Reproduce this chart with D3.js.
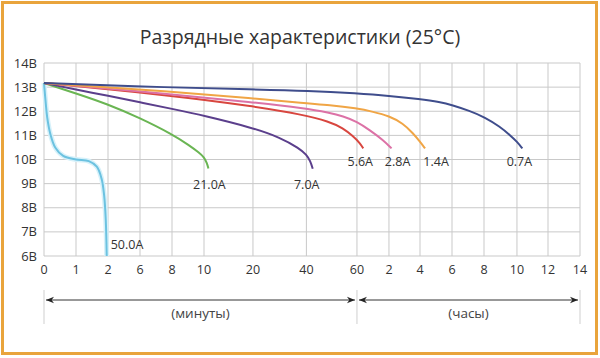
<!DOCTYPE html>
<html><head><meta charset="utf-8">
<script src="https://cdn.jsdelivr.net/npm/d3@7"></script>
<style>html,body{margin:0;padding:0;background:#fff;}svg{display:block;}</style>
</head><body>
<svg id="c" width="600" height="358"></svg>
<script>
// ---- data (x in minutes, y in volts) ----
const title = "Разрядные характеристики (25°C)";
const yTicks = [6,7,8,9,10,11,12,13,14];
const yTickLabels = ["6В","7В","8В","9В","10В","11В","12В","13В","14В"];
const xTickMinutes = [0,1,2,6,8,10,20,40,60,120,240,360,480,600,720,840];
const xTickLabels = ["0","1","2","6","8","10","20","40","60","2","4","6","8","10","12","14"];
const seriesNames = ["50.0A","21.0A","7.0A","5.6A","2.8A","1.4A","0.7A"];
const s50 = [[0,13.17],[0.05,12.4],[0.1,11.75],[0.2,11.05],[0.35,10.5],[0.6,10.15],[1.0,10.0],[1.4,9.93],[1.65,9.7],[1.8,9.2],[1.88,8.5],[1.93,7.5],[1.96,6.0]];
const s21 = [[0,13.17],[1,12.74],[2,12.29],[6,11.72],[8,11.05],[9.1,10.58],[9.7,10.28],[10,10.1],[10.6,9.86],[10.9,9.63]];
const s7  = [[0,13.17],[1,12.9],[2,12.64],[6,12.37],[8,12.1],[10,11.82],[20,11.31],[30,10.92],[37.4,10.46],[40,10.2],[41.6,9.93],[42.5,9.62]];
const s56 = [[0,13.17],[8,12.65],[20,12.21],[38.7,11.86],[49,11.57],[54.5,11.3],[58.5,10.96],[65.6,10.68],[71.8,10.46]];
const s28 = [[0,13.17],[8,12.71],[20,12.37],[39.5,12.12],[49,11.94],[54.5,11.8],[60,11.57],[84,11.22],[109,10.81],[130,10.46]];
const s14 = [[0,13.17],[8,12.81],[20,12.54],[39.5,12.33],[49,12.26],[60,12.12],[90,11.98],[121,11.8],[174,11.5],[213,11.09],[240,10.74],[259,10.46]];
const s07 = [[0,13.17],[8,12.98],[20,12.91],[41,12.85],[60,12.74],[120,12.64],[240,12.5],[315,12.38],[360,12.26],[425,12.02],[484,11.75],[538,11.36],[574,11.02],[600,10.74],[621,10.46]];
const seriesData = [s50,s21,s7,s56,s28,s14,s07];
const rangeNames = ["(минуты)","(часы)"];
const rangeBounds = [[0,60],[60,840]];

// ---- styles / layout ----
const colors = ["#6cc2e0","#6ab553","#5b3f8c","#d8463f","#dc72a6","#f0a545","#3f4d8c"];
const labelOffset = [[4,-12,"start"],[1,16,"middle"],[-6,16,"middle"],[-3,13,"middle"],[6,13,"middle"],[11,13,"middle"],[-3,13,"middle"]];
const L = 44, R = 580, T = 63, B = 256;
const units = [0,1,2,3,4,5,6.53,8.2,9.78,10.78,11.75,12.75,13.75,14.78,15.75,16.75];
const xRange = units.map(u => L + (R - L) * u / 16.75);

const svg = d3.select("#c");
const font = "'Open Sans', 'Noto Sans', sans-serif";

// frame
svg.append("rect").attr("x",2.5).attr("y",2.5).attr("width",594).attr("height",351)
  .attr("fill","#fff").attr("stroke","#e9a43c").attr("stroke-width",3);

const x = d3.scaleLinear().domain(xTickMinutes).range(xRange);
const y = d3.scaleLinear().domain([6,14]).range([B,T]);

// grid
const g = svg.append("g");
g.selectAll("line.v").data(xTickMinutes).join("line")
  .attr("x1",d=>x(d)).attr("x2",d=>x(d)).attr("y1",T).attr("y2",B)
  .attr("stroke","#c9c9c9").attr("stroke-width",1);
g.selectAll("line.h").data(yTicks).join("line")
  .attr("x1",L).attr("x2",R).attr("y1",d=>y(d)).attr("y2",d=>y(d))
  .attr("stroke","#c9c9c9").attr("stroke-width",1);

// y labels
svg.selectAll("text.yl").data(yTicks).join("text")
  .attr("x",L-7).attr("y",d=>y(d)+4.5).attr("text-anchor","end")
  .attr("font-family",font).attr("font-size",13).attr("fill","#333")
  .text((d,i)=>yTickLabels[i]);
// x labels
svg.selectAll("text.xl").data(xTickMinutes).join("text")
  .attr("x",d=>x(d)).attr("y",B+18).attr("text-anchor","middle")
  .attr("font-family",font).attr("font-size",12.5).attr("fill","#333")
  .text((d,i)=>xTickLabels[i]);

// title
svg.append("text").attr("x",300).attr("y",44).attr("text-anchor","middle")
  .attr("font-family",font).attr("font-size",19.5).attr("fill","#333").text(title);

// curves
const line = d3.line().x(d=>x(d[0])).y(d=>y(d[1])).curve(d3.curveBasis);
seriesData.forEach((s,i)=>{
  if(i===0){
    const l0 = d3.line().x(d=>x(d[0])).y(d=>y(d[1])).curve(d3.curveCatmullRom);
    svg.append("path").attr("d",l0(s)).attr("fill","none").attr("stroke","#d6f1fa").attr("stroke-width",5);
    svg.append("path").attr("d",l0(s)).attr("fill","none").attr("stroke",colors[i]).attr("stroke-width",2);
  } else {
    svg.append("path").attr("d",line(s)).attr("fill","none")
      .attr("stroke",colors[i]).attr("stroke-width",2);
  }
  const last = s[s.length-1];
  const o = labelOffset[i];
  svg.append("text").attr("x",x(last[0])+o[0]).attr("y",y(last[1])+o[1]+4.5)
    .attr("text-anchor",o[2]).attr("font-family",font).attr("font-size",12.5).attr("fill","#333")
    .text(seriesNames[i]);
});

// range arrows
const ay = 300;
const defs = svg.append("defs");
defs.append("marker").attr("id","ah").attr("viewBox","0 0 10 10").attr("refX",10).attr("refY",5)
  .attr("markerWidth",11).attr("markerHeight",8).attr("orient","auto-start-reverse")
  .attr("markerUnits","userSpaceOnUse")
  .append("path").attr("d","M0,1 L10,5 L0,9 L3,5 Z").attr("fill","#222");
const bset = [0,60,840];
svg.selectAll("line.bt").data(bset).join("line")
  .attr("x1",d=>x(d)).attr("x2",d=>x(d)).attr("y1",ay-10).attr("y2",ay+24)
  .attr("stroke","#cfcfcf").attr("stroke-width",1);
rangeBounds.forEach((b,i)=>{
  svg.append("line").attr("x1",x(b[0])+2).attr("x2",x(b[1])-2).attr("y1",ay).attr("y2",ay)
    .attr("stroke","#333").attr("stroke-width",1)
    .attr("marker-start","url(#ah)").attr("marker-end","url(#ah)");
  svg.append("text").attr("x",(x(b[0])+x(b[1]))/2).attr("y",ay+18).attr("text-anchor","middle")
    .attr("font-family",font).attr("font-size",13.5).attr("fill","#444").text(rangeNames[i]);
});
</script>
</body></html>
